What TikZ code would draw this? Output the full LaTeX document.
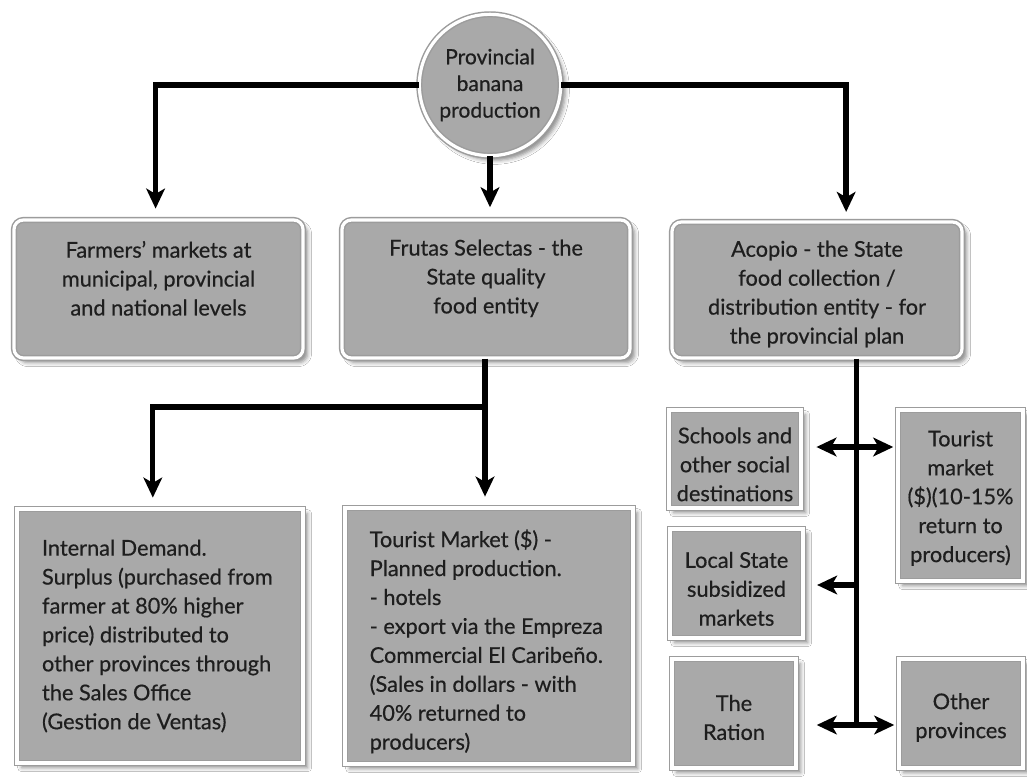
\documentclass[tikz,border=0pt]{standalone}
\usepackage{fontspec}
\setmainfont{Lato}[FakeBold=0.5]
\usetikzlibrary{arrows.meta,shadows,shadows.blur,fit,calc}
\definecolor{boxgray}{HTML}{A9A9A9}
\definecolor{edgegray}{HTML}{9C9C9C}
\definecolor{txt}{HTML}{1E1E1E}
\begin{document}
\begin{tikzpicture}[x=0.75pt,y=-0.75pt,
  panel/.style={draw=edgegray, line width=1.1pt, double=white, double distance=2.4pt,
    fill=boxgray, inner sep=0pt,
    blur shadow={shadow xshift=3.5pt, shadow yshift=-3.5pt, shadow blur radius=3pt, shadow opacity=45}},
  rpanel/.style={panel, rounded corners=7pt},
  ptext/.style={text=txt, font=\fontsize{16.3}{21.7}\selectfont, align=center, inner sep=0pt},
  ltext/.style={ptext, align=left},
  link/.style={line width=4pt, draw=black},
  flow/.style={link, -{Stealth[length=15pt,width=14pt,inset=4pt]}},
  both/.style={link, {Stealth[length=15pt,width=14pt,inset=4pt]}-{Stealth[length=15pt,width=14pt,inset=4pt]}}
]
\useasboundingbox (0,0) rectangle (1027,778);
\fill[white] (0,0) rectangle (1027,778);

% top circle
\node[panel, circle, minimum size=106pt, align=center, text=txt, font=\fontsize{15.8}{20}\selectfont] (prod) at (490,85)
  {Provincial\\banana\\production};

% second row
\node[rpanel, fit={(14,220) (303,358)},
  label={[ptext, yshift=8pt]center:{Farmers’ markets at\\municipal, provincial\\and national levels}}] (farm) {};
\node[rpanel, fit={(342,220) (630,358)},
  label={[ptext, yshift=8pt]center:{Frutas Selectas - the\\State quality\\food entity}}] (frut) {};
\node[rpanel, fit={(672,222) (962,358)},
  label={[ptext, yshift=-3pt]center:{Acopio - the State\\food collection /\\distribution entity - for\\the provincial plan}}] (acop) {};

% third row left
\node[panel, fit={(17,509) (303,763)},
  label={[ltext, yshift=0pt, xshift=-2pt]center:{Internal Demand.\\Surplus (purchased from\\farmer at 80\% higher\\price) distributed to\\other provinces through\\the Sales Office\\(Gestion de Ventas)}}] (idem) {};
\node[panel, fit={(345,508) (633,764)},
  label={[ltext, yshift=-4pt, xshift=-2pt]center:{Tourist Market (\$) -\\Planned production.\\- hotels\\- export via the Empreza\\Commercial El Caribeño.\\(Sales in dollars - with\\40\% returned to\\producers)}}] (tour) {};

% right column
\node[panel, fit={(669,410) (801,508)},
  label={[ptext, yshift=-4pt]center:{Schools and\\other social\\destinations}}] (schl) {};
\node[panel, fit={(898,410) (1023,581)},
  label={[ptext, yshift=-2pt]center:{Tourist\\market\\(\$)(10-15\%\\return to\\producers)}}] (tmkt) {};
\node[panel, fit={(670,529) (803,638)},
  label={[ptext, yshift=-4pt]center:{Local State\\subsidized\\markets}}] (locl) {};
\node[panel, fit={(672,659) (796,768)},
  label={[ptext, yshift=-3pt]center:{The\\Ration}}] (ratn) {};
\node[panel, fit={(899,659) (1023,768)},
  label={[ptext, yshift=-3pt]center:{Other\\provinces}}] (othr) {};

% connectors from the circle
\coordinate (topR) at ($(acop.north west)!0.60!(acop.north east)$);
\coordinate (topL) at ($(farm.north west)!0.49!(farm.north east)$);
\draw[flow, shorten >=8pt] (prod.west) -| (topL);
\draw[flow, shorten >=7pt] (prod.east) -| (topR);
\draw[flow, shorten >=9pt] (prod.south) -- (prod.south |- frut.north);

% split below Frutas
\coordinate (split) at (485,407);
\draw[link] (frut.south -| split) -- (split);
\draw[flow, shorten >=8pt] (split) -| ($(idem.north west)!0.475!(idem.north east)$);
\draw[flow, shorten >=8pt] (split) -- (split |- tour.north);

% Acopio spine
\coordinate (spinetop) at ($(acop.south west)!0.636!(acop.south east)$);
\coordinate (j1) at (spinetop |- 0,447);
\coordinate (j2) at (spinetop |- 0,585);
\coordinate (j3) at (spinetop |- 0,725);
\draw[link] (spinetop) -- (j3);
\draw[both, shorten <=11pt, shorten >=3pt] (j1 -| schl.east) -- (j1 -| tmkt.west);
\draw[flow, shorten >=10pt] (j2) -- (j2 -| locl.east);
\draw[both, shorten <=15pt, shorten >=3pt] (j3 -| ratn.east) -- (j3 -| othr.west);
\end{tikzpicture}
\end{document}
